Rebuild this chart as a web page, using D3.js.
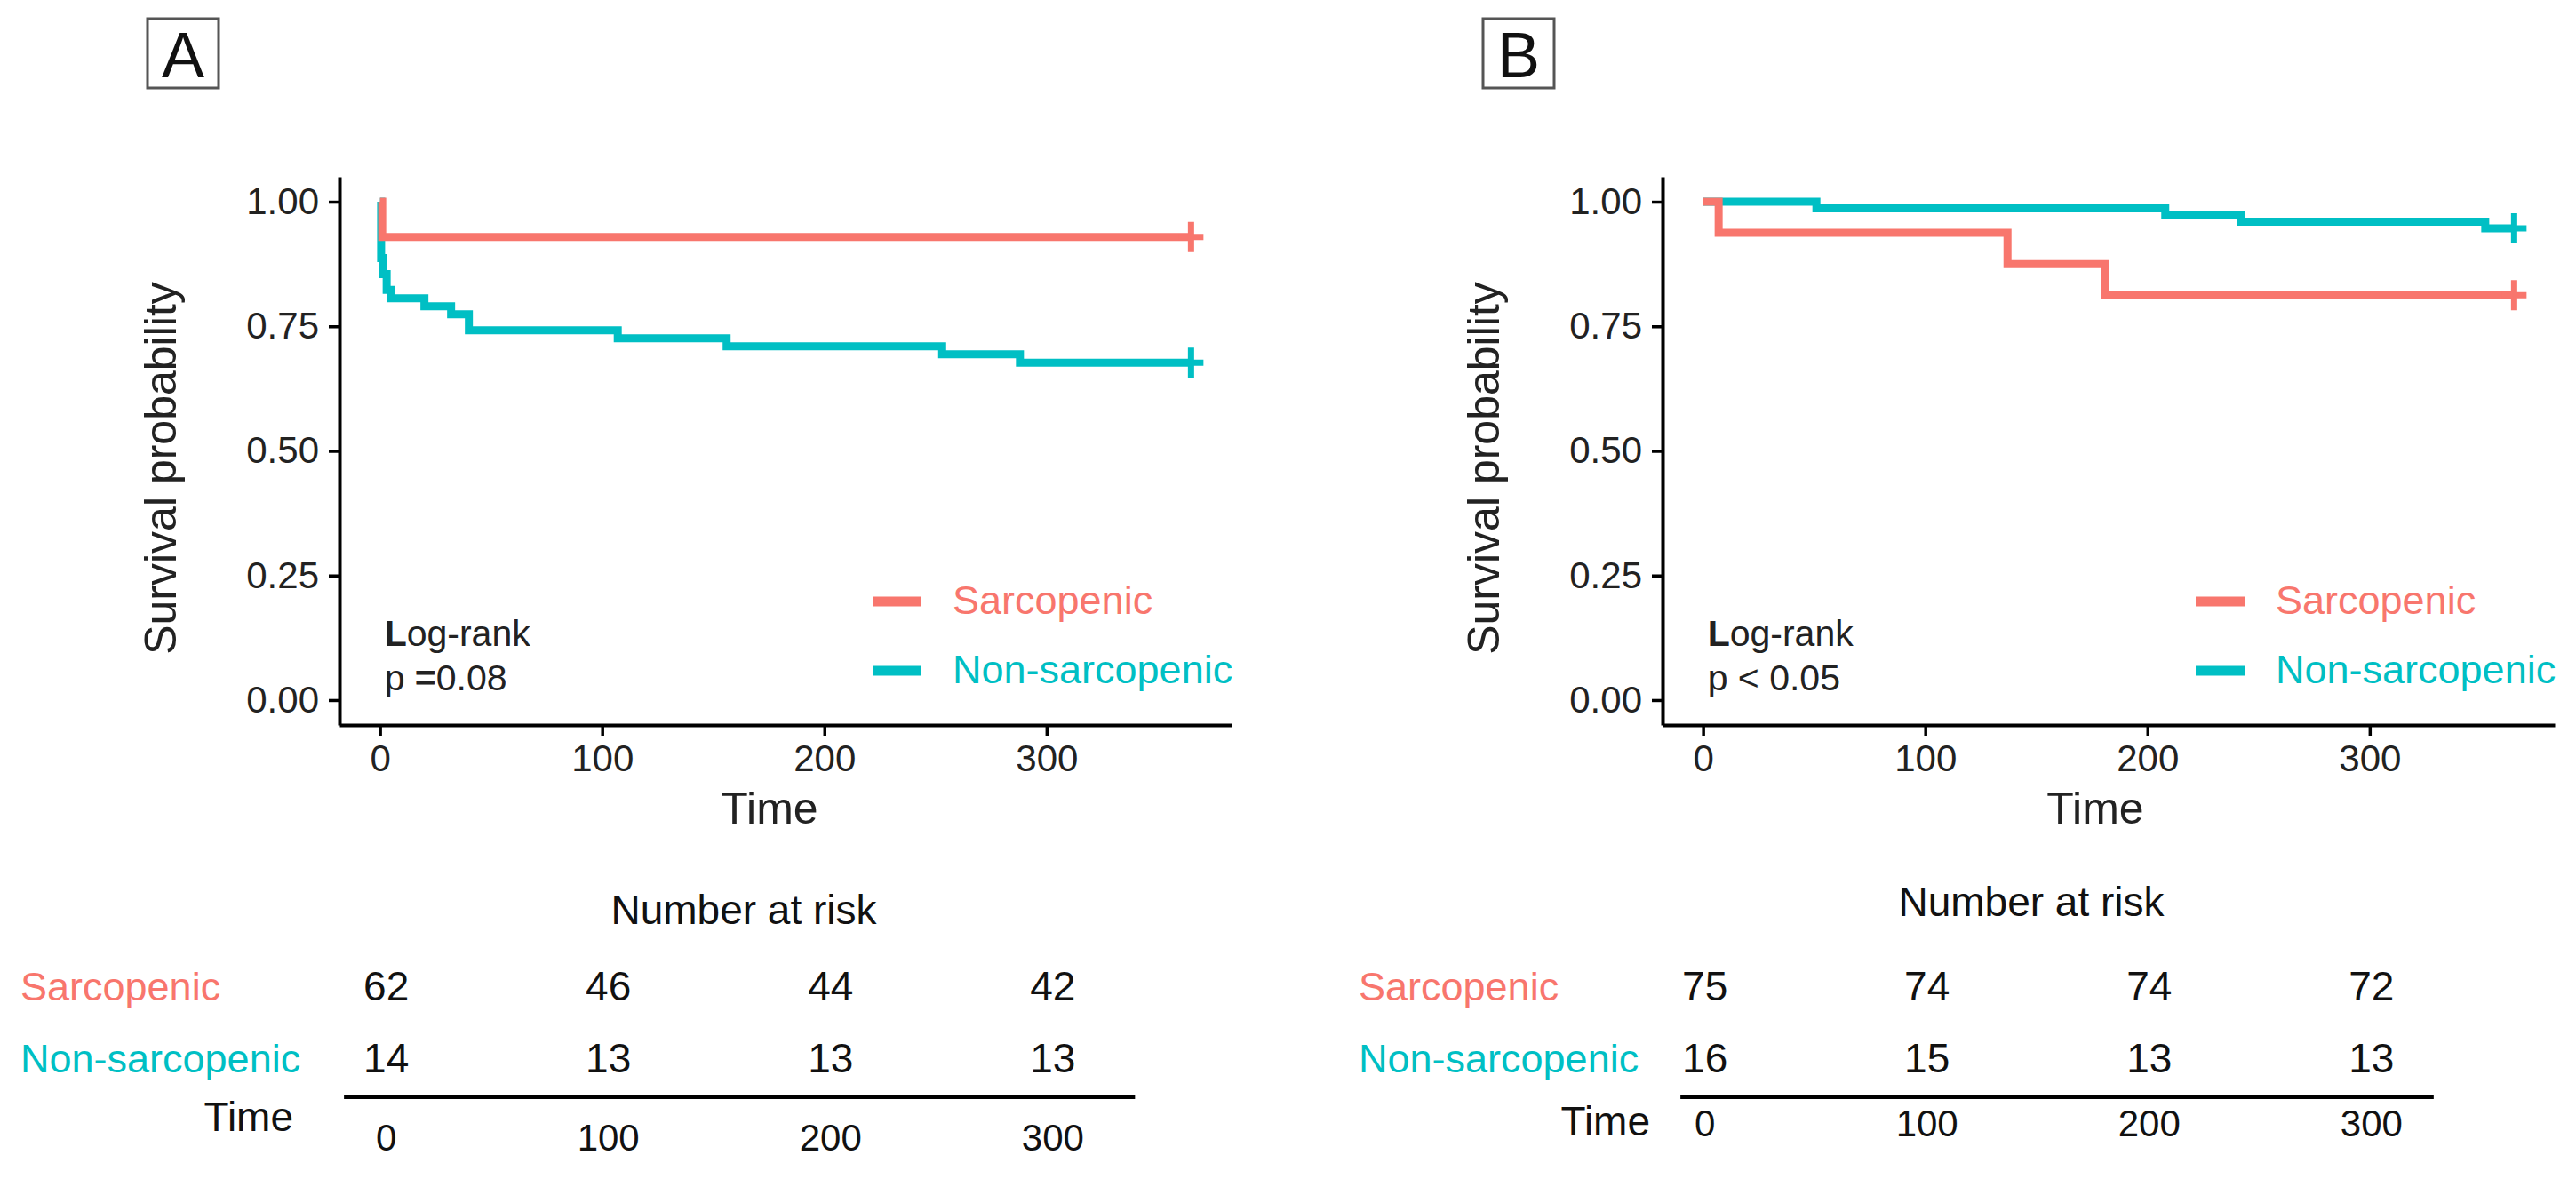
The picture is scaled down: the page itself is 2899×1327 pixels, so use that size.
<!DOCTYPE html>
<html>
<head>
<meta charset="utf-8">
<script src="https://cdn.jsdelivr.net/npm/d3@7"></script>
<style>
  body { margin: 0; background: #fff; }
  svg { display: block; font-family: "Liberation Sans", Arial, Helvetica, sans-serif; }
</style>
</head>
<body>
<svg id="chart" width="2899" height="1327"></svg>
<script>
const groups = ['Sarcopenic', 'Non-sarcopenic'];
const colors = ['#F8766D', '#00BFC4'];
const timeTicks = [0, 100, 200, 300];
const survTicks = [0, 0.25, 0.5, 0.75, 1];
const followUp = 365;

// KM steps, [time, survival]
const sarcA = [[0, 1], [1, 0.929]];
const nonSarcA = [[0, 1], [0.5, 0.887], [1.5, 0.855], [3, 0.823], [5, 0.806], [20, 0.790], [32, 0.774],
  [40, 0.742], [107, 0.726], [156, 0.710], [253, 0.694], [288, 0.677]];
const sarcB = [[0, 1], [7, 0.9375], [137, 0.875], [181, 0.8125]];
const nonSarcB = [[0, 1], [51, 0.9867], [208, 0.9733], [242, 0.96], [352, 0.9467]];

// number at risk at timeTicks
const riskSarcA = [62, 46, 44, 42];
const riskNonSarcA = [14, 13, 13, 13];
const riskSarcB = [75, 74, 74, 72];
const riskNonSarcB = [16, 15, 13, 13];

const panels = [
  { label: 'A', curves: [nonSarcA, sarcA], risk: [riskSarcA, riskNonSarcA], pval: ['p ', '=', '0.08'],
    left: 382, boxX: 166, titleX: 866, riskTitleX: 837, riskTitleY: 1040, rowLabelX: 23,
    tableShift: 7, lineFrom: -19, lineTo: 337, timeLabelX: 330, timeLabelY: 1273, timeNumY: 1295 },
  { label: 'B', curves: [nonSarcB, sarcB], risk: [riskSarcB, riskNonSarcB], pval: ['p < 0.05'],
    left: 1871, boxX: 1669, titleX: 2358, riskTitleX: 2286, riskTitleY: 1031, rowLabelX: 1529,
    tableShift: 2, lineFrom: -11, lineTo: 328, timeLabelX: 1857, timeLabelY: 1278, timeNumY: 1279 }
];

const panelWidth = 1004;
const plotTop = 199, plotBottom = 816;

const svg = d3.select('#chart');

panels.forEach(drawPanel);

function drawPanel(p) {
  const g = svg.append('g');
  const pad = followUp * 0.05;
  const x = d3.scaleLinear().domain([-pad, followUp + pad]).range([p.left, p.left + panelWidth]);
  const y = d3.scaleLinear().domain([-0.05, 1.05]).range([plotBottom, plotTop]);

  // panel letter
  g.append('rect')
    .attr('x', p.boxX).attr('y', 21).attr('width', 80).attr('height', 78)
    .attr('fill', 'none').attr('stroke', '#555').attr('stroke-width', 3);
  g.append('text')
    .attr('x', p.boxX + 40).attr('y', 87)
    .attr('text-anchor', 'middle').attr('font-size', 72).attr('fill', '#111')
    .text(p.label);

  // axes
  const yAxis = g.append('g')
    .attr('transform', `translate(${p.left},0)`)
    .call(d3.axisLeft(y).tickValues(survTicks).tickFormat(d3.format('.2f'))
      .tickSize(12).tickSizeOuter(0).tickPadding(11));
  const xAxis = g.append('g')
    .attr('transform', `translate(0,${plotBottom})`)
    .call(d3.axisBottom(x).tickValues(timeTicks).tickSize(12).tickSizeOuter(0).tickPadding(10));
  [yAxis, xAxis].forEach(a => {
    a.select('.domain').attr('stroke', '#000').attr('stroke-width', 4);
    a.selectAll('.tick line').attr('stroke', '#000').attr('stroke-width', 3.5);
    a.selectAll('.tick text').attr('font-size', 42).attr('fill', '#222')
      .attr('font-family', '"Liberation Sans", Arial, sans-serif');
  });

  g.append('text')
    .attr('transform', `translate(${p.left - 184},527) rotate(-90)`)
    .attr('text-anchor', 'middle').attr('font-size', 50).attr('fill', '#222')
    .text('Survival probability');
  g.append('text')
    .attr('x', p.titleX).attr('y', 927)
    .attr('text-anchor', 'middle').attr('font-size', 50).attr('fill', '#222')
    .text('Time');

  // curves, cyan below red
  const line = d3.line().x(d => x(d[0])).y(d => y(d[1])).curve(d3.curveStepAfter);
  p.curves.forEach((c, i) => {
    const col = colors[1 - i];
    const pts = c.concat([[followUp, c[c.length - 1][1]]]);
    g.append('path')
      .attr('d', line(pts))
      .attr('fill', 'none').attr('stroke', col).attr('stroke-width', 9);
    const cx = x(followUp), cy = y(c[c.length - 1][1]);
    g.append('path')
      .attr('d', `M${cx - 14},${cy}H${cx + 14}M${cx},${cy - 17}V${cy + 17}`)
      .attr('stroke', col).attr('stroke-width', 7).attr('fill', 'none');
  });

  // log-rank annotation
  const lr = g.append('text').attr('x', x(2)).attr('y', 727).attr('font-size', 41).attr('fill', '#222');
  lr.append('tspan').attr('font-weight', 'bold').text('L');
  lr.append('tspan').text('og-rank');
  const pv = g.append('text').attr('x', x(2)).attr('y', 777).attr('font-size', 41).attr('fill', '#222');
  p.pval.forEach(s => pv.append('tspan').attr('font-weight', s === '=' ? 'bold' : null).text(s));

  // legend
  groups.forEach((name, i) => {
    const ly = 677 + i * 78;
    g.append('line')
      .attr('x1', p.left + 600).attr('x2', p.left + 655).attr('y1', ly).attr('y2', ly)
      .attr('stroke', colors[i]).attr('stroke-width', 11);
    g.append('text')
      .attr('x', p.left + 690).attr('y', ly + 14)
      .attr('font-size', 45).attr('fill', colors[i])
      .text(name);
  });

  // risk table
  const xt = x.copy().range(x.range().map(v => v + p.tableShift));
  g.append('text')
    .attr('x', p.riskTitleX).attr('y', p.riskTitleY)
    .attr('text-anchor', 'middle').attr('font-size', 46).attr('fill', '#111')
    .text('Number at risk');
  p.risk.forEach((row, i) => {
    const ry = 1126 + i * 81;
    g.append('text')
      .attr('x', p.rowLabelX).attr('y', ry)
      .attr('font-size', 45).attr('fill', colors[i])
      .text(groups[i]);
    g.selectAll(null).data(row).join('text')
      .attr('x', (d, j) => xt(timeTicks[j])).attr('y', ry)
      .attr('text-anchor', 'middle').attr('font-size', 46).attr('fill', '#111')
      .text(d => d);
  });
  g.append('line')
    .attr('x1', xt(p.lineFrom)).attr('x2', xt(p.lineTo)).attr('y1', 1235).attr('y2', 1235)
    .attr('stroke', '#000').attr('stroke-width', 4);
  g.append('text')
    .attr('x', p.timeLabelX).attr('y', p.timeLabelY)
    .attr('text-anchor', 'end').attr('font-size', 46).attr('fill', '#111')
    .text('Time');
  g.selectAll(null).data(timeTicks).join('text')
    .attr('x', d => xt(d)).attr('y', p.timeNumY)
    .attr('text-anchor', 'middle').attr('font-size', 42).attr('fill', '#111')
    .text(d => d);
}
</script>
</body>
</html>
